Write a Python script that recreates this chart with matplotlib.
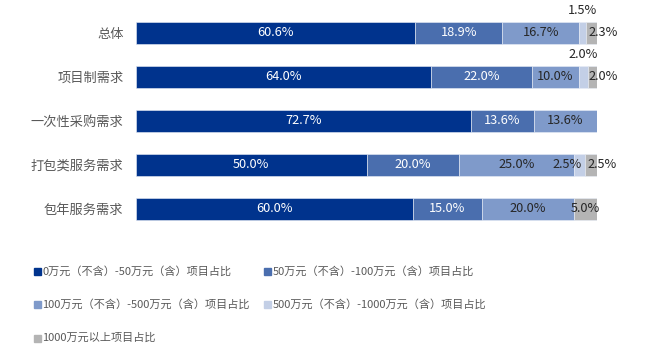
import matplotlib
matplotlib.use("Agg")
import matplotlib.pyplot as plt
from matplotlib.patches import Rectangle
import numpy as np

plt.rcParams['font.family'] = ['Noto Sans CJK SC', 'DejaVu Sans']

categories = ["总体", "项目制需求", "一次性采购需求", "打包类服务需求", "包年服务需求"]
series_names = ["0万元（不含）-50万元（含）项目占比",
                "50万元（不含）-100万元（含）项目占比",
                "100万元（不含）-500万元（含）项目占比",
                "500万元（不含）-1000万元（含）项目占比",
                "1000万元以上项目占比"]
s0 = [60.6, 64.0, 72.7, 50.0, 60.0]
s1 = [18.9, 22.0, 13.6, 20.0, 15.0]
s2 = [16.7, 10.0, 13.6, 25.0, 20.0]
s3 = [1.5, 2.0, 0.0, 2.5, 0.0]
s4 = [2.3, 2.0, 0.0, 2.5, 5.0]

colors = ["#00338D", "#4A6EAE", "#7F9ACA", "#C3CFE6", "#B4B4B4"]
text_colors = ["white", "white", "#262626", "#262626", "#262626"]

fig = plt.figure(figsize=(6.55, 3.63), dpi=100)
ax = fig.add_axes([136/655, 1-231/363, 461/655, 220/363])

series = [s0, s1, s2, s3, s4]
y = np.arange(len(categories))
left = np.zeros(len(categories))
for k, vals in enumerate(series):
    vals = np.array(vals)
    ax.barh(y, vals, left=left, height=0.5, color=colors[k], edgecolor="#E8EDF6", linewidth=0.4)
    for i, v in enumerate(vals):
        if v <= 0:
            continue
        cx = left[i] + v / 2
        if k <= 2 or (k == 4 and v >= 4):
            ax.text(cx, y[i], f"{v:.1f}%", ha="center", va="center",
                    fontsize=9.2, color=text_colors[k])
        elif k == 3 and categories[i] == "打包类服务需求":
            ax.text(cx - 2.8, y[i], f"{v:.1f}%", ha="center", va="center",
                    fontsize=9.2, color="#262626")
        elif k == 3:
            ax.text(cx, y[i] - 0.5, f"{v:.1f}%", ha="center", va="center",
                    fontsize=9.2, color="#262626")
        else:
            ax.text(cx + 2.4, y[i], f"{v:.1f}%", ha="center", va="center",
                    fontsize=9.2, color="#262626")
    left = left + vals

ax.set_xlim(0, 100)
ax.set_ylim(4.5, -0.5)
ax.set_yticks(y)
ax.set_yticklabels(categories, fontsize=9.5, color="#595959")
ax.tick_params(axis="y", length=0, pad=9)
ax.set_xticks([])
for sp in ax.spines.values():
    sp.set_visible(False)

# legend (row-major, 2 columns)
leg_pos = [(34, 271), (264, 271), (34, 304), (264, 304), (34, 338)]
for k, (px, py) in enumerate(leg_pos):
    fig.patches.append(Rectangle((px/655, (363-py-3.5)/363), 6.5/655, 7/363,
                                 transform=fig.transFigure, color=colors[k]))
    fig.text((px+8.5)/655, (363-py)/363, series_names[k], ha="left", va="center",
             fontsize=8, color="#595959")

fig.savefig("out.png", dpi=100)
